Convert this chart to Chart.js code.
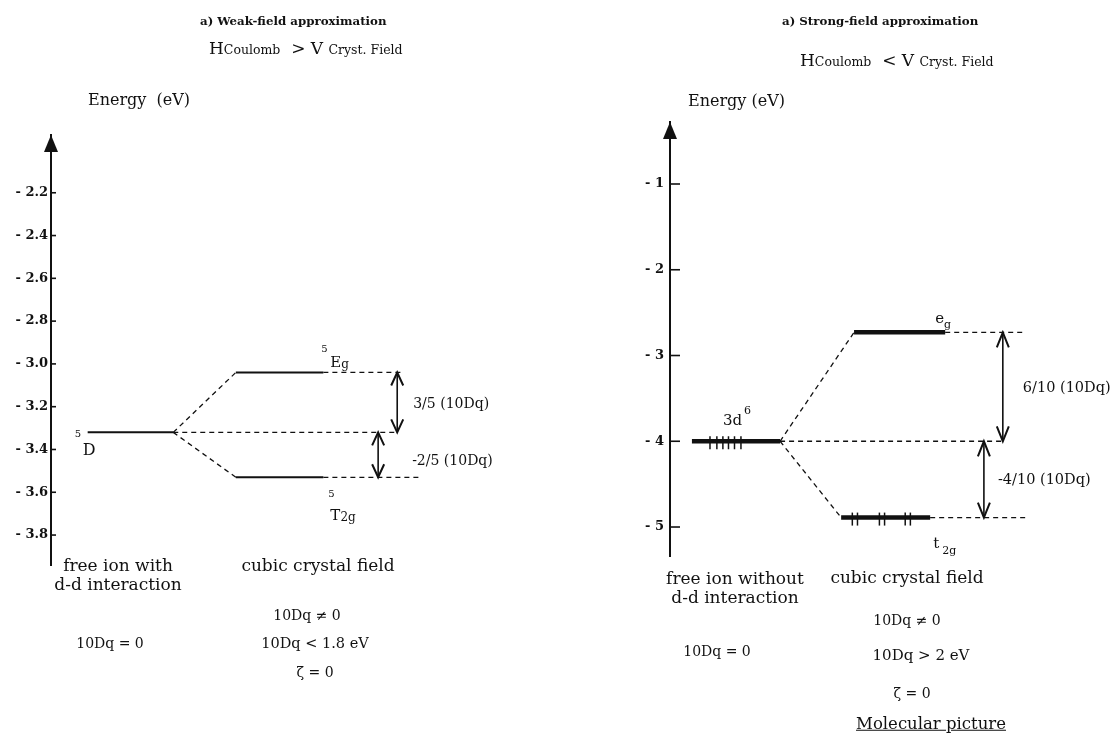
<!DOCTYPE html>
<html>
<head>
<meta charset="utf-8">
<script src="https://cdn.jsdelivr.net/npm/chart.js@4.4.1/dist/chart.umd.min.js"></script>
<style>
  html, body { margin: 0; padding: 0; background: #fff; }
  body { width: 1113px; height: 736px; position: relative; overflow: hidden;
         font-family: "DejaVu Serif", serif; color: #111; }
  canvas { position: absolute; top: 0; }
  .t { position: absolute; white-space: nowrap; line-height: 1; }
  .c { transform: translate(-50%, -50%); text-align: center; }
  .l { transform: translateY(-50%); }
  .title { font-weight: bold; font-size: 11.8px; }
  .hl { font-size: 17px; }
  .sm { font-size: 12.5px; }
  .en { font-size: 16px; }
  .cap { font-size: 17px; line-height: 18.5px; }
  .eq { font-size: 14px; }
</style>
</head>
<body>
<canvas id="weak" width="556" height="736" style="left:0"></canvas>
<canvas id="strong" width="557" height="736" style="left:556px"></canvas>

<!-- left panel texts -->
<div class="t l title" style="left:200px;top:22px">a) Weak-field approximation</div>
<div class="t l hl" style="left:209px;top:48px">H<span class="sm">Coulomb</span>&nbsp; &gt; V <span class="sm">Cryst. Field</span></div>
<div class="t l en" style="left:88px;top:100px">Energy&nbsp; (eV)</div>
<div class="t c cap" style="left:118px;top:574px">free ion with<br>d-d interaction</div>
<div class="t c cap" style="left:318px;top:565px">cubic crystal field</div>
<div class="t c eq" style="left:110px;top:643px">10Dq = 0</div>
<div class="t c eq" style="left:307px;top:615px">10Dq &ne; 0</div>
<div class="t c eq" style="left:315px;top:643px;font-size:14.5px">10Dq &lt; 1.8 eV</div>
<div class="t c eq" style="left:315px;top:672px">&zeta; = 0</div>

<!-- right panel texts -->
<div class="t l title" style="left:782px;top:22px">a) Strong-field approximation</div>
<div class="t l hl" style="left:800px;top:60px">H<span class="sm">Coulomb</span>&nbsp; &lt; V <span class="sm">Cryst. Field</span></div>
<div class="t l en" style="left:688px;top:101px">Energy (eV)</div>
<div class="t c cap" style="left:735px;top:587px">free ion without<br>d-d interaction</div>
<div class="t c cap" style="left:907px;top:577px">cubic crystal field</div>
<div class="t c eq" style="left:717px;top:651px">10Dq = 0</div>
<div class="t c eq" style="left:907px;top:620px">10Dq &ne; 0</div>
<div class="t c eq" style="left:921px;top:655px;font-size:15px">10Dq &gt; 2 eV</div>
<div class="t c eq" style="left:912px;top:693px">&zeta; = 0</div>
<div class="t c" style="left:931px;top:724px;font-size:16.5px;text-decoration:underline">Molecular picture</div>

<script>
const ink = '#111';

// ---- weak-field panel (eV) ----
const weakTicks = [-2.2, -2.4, -2.6, -2.8, -3.0, -3.2, -3.4, -3.6, -3.8];
const weakRange = [-3.94, -1.93];
const weakLevels = ['5D', '5Eg', '5T2g'];
const weakEnergy = [-3.32, -3.04, -3.53];
const weakStart = [7.5, 37.8, 37.8];     // column position, 0..100
const weakEnd = [25, 55.7, 55.7];
const weakGuideEnd = [70.8, 71.5, 75.5];
const weakArrowX = [70.8, 66.9];

// ---- strong-field panel (eV) ----
const strongTicks = [-1, -2, -3, -4, -5];
const strongRange = [-5.338, -0.277];
const strongLevels = ['3d6', 'eg', 't2g'];
const strongEnergy = [-4.0, -2.73, -4.89];
const strongStart = [5.1, 42.8, 39.8];
const strongEnd = [25.6, 64.0, 60.5];
const strongGuideEnd = [77.4, 82.6, 82.6];
const strongArrowX = [77.4, 73.0];
const electrons3d = [9.3, 10.9, 12.3, 13.6, 15.0, 16.5];
const electronsT2g = [42.4, 43.6, 48.7, 49.9, 54.7, 55.9];

function levelDatasets(levels, energy, start, end, guideEnd, arrowX, levelWidth) {
    const ds = [];
    const dashed = { borderColor: ink, borderWidth: 1.3, borderDash: [5, 4], pointRadius: 0 };
    levels.forEach((name, i) => {
        ds.push({ label: name, data: [{ x: start[i], y: energy[i] }, { x: end[i], y: energy[i] }],
            borderColor: ink, borderWidth: levelWidth, pointRadius: 0 });
        ds.push({ label: name + ' guide', data: [{ x: end[i], y: energy[i] }, { x: guideEnd[i], y: energy[i] }], ...dashed });
        if (i > 0) {
            ds.push({ label: name + ' split', data: [{ x: end[0], y: energy[0] }, { x: start[i], y: energy[i] }], ...dashed });
        }
    });
    // gaps: upper level -> centre, centre -> lower level
    const gaps = [[energy[1], energy[0]], [energy[0], energy[2]]];
    gaps.forEach((g, k) => {
        ds.push({ label: 'gap ' + k, data: [{ x: arrowX[k], y: g[0] }, { x: arrowX[k], y: g[1] }],
            borderColor: ink, borderWidth: 1.6, pointRadius: 0 });
    });
    return ds;
}

function makeExtras(cfg) {
    return {
        id: 'diagramExtras',
        afterDatasetsDraw(chart) {
            const { ctx, chartArea, scales: { x, y } } = chart;
            const seg = (x1, y1, x2, y2) => { ctx.beginPath(); ctx.moveTo(x1, y1); ctx.lineTo(x2, y2); ctx.stroke(); };
            ctx.save();
            ctx.strokeStyle = ink;
            ctx.fillStyle = ink;

            // arrow on top of the energy axis
            const ax = chartArea.left;
            ctx.beginPath();
            ctx.moveTo(ax, chartArea.top);
            ctx.lineTo(ax - 7, chartArea.top + 17);
            ctx.lineTo(ax + 7, chartArea.top + 17);
            ctx.closePath();
            ctx.fill();

            // tick marks pointing inward
            ctx.lineWidth = 1.6;
            y.ticks.forEach(t => {
                const py = y.getPixelForValue(t.value);
                seg(ax, py, ax + cfg.tickLen, py);
            });

            // open arrow heads on the gap arrows
            ctx.lineWidth = 2;
            cfg.arrows.forEach(a => {
                const px = x.getPixelForValue(a.x);
                const top = y.getPixelForValue(a.hi), bot = y.getPixelForValue(a.lo);
                ctx.beginPath();
                ctx.moveTo(px - 6, top + cfg.head); ctx.lineTo(px, top); ctx.lineTo(px + 6, top + cfg.head);
                ctx.moveTo(px - 6, bot - cfg.head); ctx.lineTo(px, bot); ctx.lineTo(px + 6, bot - cfg.head);
                ctx.stroke();
            });

            // electron marks
            ctx.lineWidth = 1.5;
            cfg.electrons.forEach(e => {
                const py = y.getPixelForValue(e.y);
                e.xs.forEach(xv => {
                    const px = x.getPixelForValue(xv);
                    seg(px, py - 5, px, py + 8);
                });
            });

            // level labels
            ctx.textBaseline = 'alphabetic';
            cfg.labels.forEach(l => {
                let px = x.getPixelForValue(l.x) + l.dx;
                const py = y.getPixelForValue(l.y) + l.dy;
                l.parts.forEach(p => {
                    ctx.font = (p.size || 14) + 'px "DejaVu Serif", serif';
                    ctx.fillText(p.t, px + (p.shift || 0), py + (p.rise || 0));
                    px += ctx.measureText(p.t).width + (p.shift || 0);
                });
            });
            ctx.restore();
        }
    };
}

function makeDiagram(id, opt) {
    return new Chart(document.getElementById(id), {
        type: 'line',
        data: { datasets: opt.datasets },
        options: {
            responsive: false,
            animation: false,
            layout: { padding: opt.padding },
            plugins: { legend: { display: false }, tooltip: { enabled: false } },
            scales: {
                x: { type: 'linear', min: 0, max: 100, display: false },
                y: {
                    type: 'linear',
                    min: opt.range[0],
                    max: opt.range[1],
                    afterFit: s => { s.width = opt.axisX; },
                    afterBuildTicks: s => { s.ticks = opt.ticks.map(v => ({ value: v })); },
                    grid: { drawOnChartArea: false, drawTicks: false },
                    border: { display: true, color: ink, width: 2 },
                    ticks: {
                        padding: opt.labelPad,
                        color: ink,
                        font: { family: 'DejaVu Serif', size: 13, weight: 'bold' },
                        callback: opt.format
                    }
                }
            }
        },
        plugins: [makeExtras(opt.extras)]
    });
}

makeDiagram('weak', {
    datasets: levelDatasets(weakLevels, weakEnergy, weakStart, weakEnd, weakGuideEnd, weakArrowX, 2),
    padding: { top: 135, bottom: 171, left: 0, right: 16 },
    axisX: 51,
    range: weakRange,
    ticks: weakTicks,
    labelPad: 3,
    format: v => '- ' + Math.abs(v).toFixed(1),
    extras: {
        tickLen: 5,
        head: 13,
        arrows: [
            { x: weakArrowX[0], hi: weakEnergy[1], lo: weakEnergy[0] },
            { x: weakArrowX[1], hi: weakEnergy[0], lo: weakEnergy[2] }
        ],
        electrons: [],
        labels: [
            { x: weakStart[0], y: weakEnergy[0], dx: -13, dy: 5, parts: [{ t: '5', size: 10 }] },
            { x: weakStart[0], y: weakEnergy[0], dx: -5, dy: 23, parts: [{ t: 'D', size: 16 }] },
            { x: weakEnd[1], y: weakEnergy[1], dx: -2, dy: -20, parts: [{ t: '5', size: 10 }] },
            { x: weakEnd[1], y: weakEnergy[1], dx: 7, dy: -5, parts: [{ t: 'E', size: 15 }, { t: 'g', size: 12, rise: 1 }] },
            { x: weakEnd[2], y: weakEnergy[2], dx: 5, dy: 20, parts: [{ t: '5', size: 10 }] },
            { x: weakEnd[2], y: weakEnergy[2], dx: 7, dy: 43, parts: [{ t: 'T', size: 15 }, { t: '2g', size: 12, rise: 1 }] },
            { x: weakArrowX[0], y: (weakEnergy[1] + weakEnergy[0]) / 2, dx: 16, dy: 6, parts: [{ t: '3/5 (10Dq)' }] },
            { x: weakArrowX[1], y: (weakEnergy[0] + weakEnergy[2]) / 2, dx: 34, dy: 10, parts: [{ t: '-2/5 (10Dq)' }] }
        ]
    }
});

makeDiagram('strong', {
    datasets: levelDatasets(strongLevels, strongEnergy, strongStart, strongEnd, strongGuideEnd, strongArrowX, 4.5),
    padding: { top: 122, bottom: 180, left: 0, right: 13 },
    axisX: 114,
    range: strongRange,
    ticks: strongTicks,
    labelPad: 6,
    format: v => '- ' + Math.abs(v),
    extras: {
        tickLen: 10,
        head: 15,
        arrows: [
            { x: strongArrowX[0], hi: strongEnergy[1], lo: strongEnergy[0] },
            { x: strongArrowX[1], hi: strongEnergy[0], lo: strongEnergy[2] }
        ],
        electrons: [
            { y: strongEnergy[0], xs: electrons3d },
            { y: strongEnergy[2], xs: electronsT2g }
        ],
        labels: [
            { x: strongStart[0], y: strongEnergy[0], dx: 31, dy: -16, parts: [{ t: '3d', size: 15 }, { t: '6', size: 11, rise: -11, shift: 2 }] },
            { x: strongEnd[1], y: strongEnergy[1], dx: -10, dy: -9, parts: [{ t: 'e', size: 15 }, { t: 'g', size: 11, rise: 5 }] },
            { x: strongEnd[2], y: strongEnergy[2], dx: 3, dy: 30, parts: [{ t: 't', size: 15 }, { t: '2g', size: 11, rise: 6, shift: 3 }] },
            { x: strongArrowX[0], y: (strongEnergy[1] + strongEnergy[0]) / 2, dx: 20, dy: 5, parts: [{ t: '6/10 (10Dq)', size: 14.5 }] },
            { x: strongArrowX[1], y: (strongEnergy[0] + strongEnergy[2]) / 2, dx: 14, dy: 5, parts: [{ t: '-4/10 (10Dq)', size: 14.5 }] }
        ]
    }
});
</script>
</body>
</html>
